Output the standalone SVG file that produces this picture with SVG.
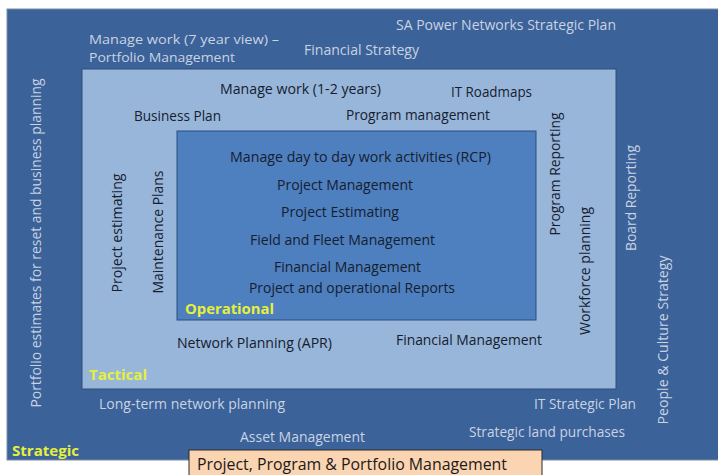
<svg xmlns="http://www.w3.org/2000/svg" width="718" height="475" viewBox="0 0 718 475">
<style>
text{font-family:"Open Sans","Noto Sans","Liberation Sans",sans-serif;font-size:14px}
.lt{fill:#C9D3E2}
.dk{fill:#15202F}
.yl{fill:#E6F03A;font-weight:bold}
.bx{font-size:16px;fill:#1A1A1A}
.sm{font-size:13px}
</style>
<rect width="718" height="475" fill="#FFFFFF"/>
<g id="strategic">
<rect x="7" y="9" width="712" height="451" fill="#3B6299" stroke="#7D8DA3" stroke-width="1"/>
<text class="lt" x="396" y="30" textLength="220" lengthAdjust="spacingAndGlyphs">SA Power Networks Strategic Plan</text>
<text class="lt sm" x="89" y="44" textLength="190" lengthAdjust="spacingAndGlyphs">Manage work (7 year view) –</text>
<text class="lt sm" x="89" y="62" textLength="146" lengthAdjust="spacingAndGlyphs">Portfolio Management</text>
<text class="lt" x="304" y="55" textLength="115" lengthAdjust="spacingAndGlyphs">Financial Strategy</text>
<text class="lt" transform="translate(41 243) rotate(-90)" text-anchor="middle" textLength="329" lengthAdjust="spacingAndGlyphs">Portfolio estimates for reset and business planning</text>
<text class="lt" transform="translate(636 198) rotate(-90)" text-anchor="middle" textLength="106" lengthAdjust="spacingAndGlyphs">Board Reporting</text>
<text class="lt" transform="translate(668 340) rotate(-90)" text-anchor="middle" textLength="169" lengthAdjust="spacingAndGlyphs">People &amp; Culture Strategy</text>
<text class="lt" x="99" y="409" textLength="186" lengthAdjust="spacingAndGlyphs">Long-term network planning</text>
<text class="lt" x="534" y="409" textLength="102" lengthAdjust="spacingAndGlyphs">IT Strategic Plan</text>
<text class="lt" x="240" y="442" textLength="125" lengthAdjust="spacingAndGlyphs">Asset Management</text>
<text class="lt" x="469" y="437" textLength="156" lengthAdjust="spacingAndGlyphs">Strategic land purchases</text>
<text class="yl" x="12" y="456" textLength="67" lengthAdjust="spacingAndGlyphs">Strategic</text>
</g>
<g id="tactical">
<rect x="82" y="69" width="534" height="320" fill="#98B6DA" stroke="#2E4D78" stroke-width="1"/>
<text class="dk" x="220" y="94" textLength="161" lengthAdjust="spacingAndGlyphs">Manage work (1-2 years)</text>
<text class="dk" x="451" y="97" textLength="81" lengthAdjust="spacingAndGlyphs">IT Roadmaps</text>
<text class="dk" x="134" y="121" textLength="87" lengthAdjust="spacingAndGlyphs">Business Plan</text>
<text class="dk" x="346" y="120" textLength="144" lengthAdjust="spacingAndGlyphs">Program management</text>
<text class="dk" transform="translate(122 233) rotate(-90)" text-anchor="middle" textLength="119" lengthAdjust="spacingAndGlyphs">Project estimating</text>
<text class="dk" transform="translate(163 232) rotate(-90)" text-anchor="middle" textLength="123" lengthAdjust="spacingAndGlyphs">Maintenance Plans</text>
<text class="dk" transform="translate(560 174) rotate(-90)" text-anchor="middle" textLength="123" lengthAdjust="spacingAndGlyphs">Program Reporting</text>
<text class="dk" transform="translate(590 271) rotate(-90)" text-anchor="middle" textLength="128" lengthAdjust="spacingAndGlyphs">Workforce planning</text>
<text class="dk" x="177" y="348" textLength="155" lengthAdjust="spacingAndGlyphs">Network Planning (APR)</text>
<text class="dk" x="396" y="345" textLength="146" lengthAdjust="spacingAndGlyphs">Financial Management</text>
<text class="yl" x="89" y="380" textLength="58" lengthAdjust="spacingAndGlyphs">Tactical</text>
</g>
<g id="operational">
<rect x="177" y="131" width="359" height="189" fill="#4E7FBF" stroke="#2C4F80" stroke-width="1"/>
<text class="dk" x="230" y="162" textLength="261" lengthAdjust="spacingAndGlyphs">Manage day to day work activities (RCP)</text>
<text class="dk" x="277" y="190" textLength="136" lengthAdjust="spacingAndGlyphs">Project Management</text>
<text class="dk" x="281" y="217" textLength="118" lengthAdjust="spacingAndGlyphs">Project Estimating</text>
<text class="dk" x="250" y="245" textLength="185" lengthAdjust="spacingAndGlyphs">Field and Fleet Management</text>
<text class="dk" x="274" y="272" textLength="147" lengthAdjust="spacingAndGlyphs">Financial Management</text>
<text class="dk" x="249" y="293" textLength="206" lengthAdjust="spacingAndGlyphs">Project and operational Reports</text>
<text class="yl" x="185" y="314" textLength="89" lengthAdjust="spacingAndGlyphs">Operational</text>
</g>
<g id="title">
<rect x="189" y="450" width="353" height="30" fill="#FBD4B2" stroke="#2A2A2A" stroke-width="1"/>
<text class="bx" x="197" y="470" textLength="310" lengthAdjust="spacingAndGlyphs">Project, Program &amp; Portfolio Management</text>
</g>
</svg>
